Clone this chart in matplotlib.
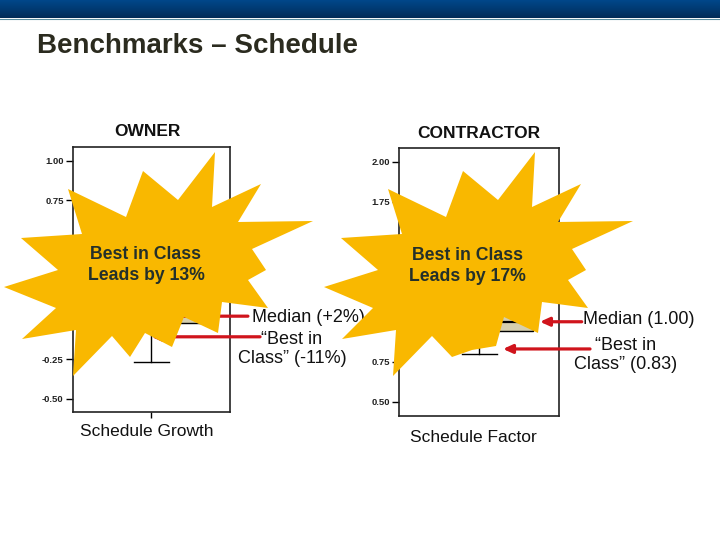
import numpy as np
import matplotlib.pyplot as plt
from matplotlib.patches import Polygon

plt.rcParams['font.family'] = ['Liberation Sans', 'DejaVu Sans']

# values
panel_titles = ["OWNER", "CONTRACTOR"]
metric_names = ["Schedule Growth", "Schedule Factor"]

owner_box = {"whislo": -0.27, "q1": -0.02, "med": 0.02, "q3": 0.10, "whishi": 0.45}
contractor_box = {"whislo": 0.80, "q1": 0.94, "med": 1.00, "q3": 1.08, "whishi": 1.30}

owner_yticks = [-0.50, -0.25, 0.00, 0.25, 0.50, 0.75, 1.00]
contractor_yticks = [0.50, 0.75, 1.00, 1.25, 1.50, 1.75, 2.00]

owner_median, owner_best = 0.02, -0.11
contractor_median, contractor_best = 1.00, 0.83
owner_lead, contractor_lead = 13, 17

W, H = 720, 540
GOLD = "#f9b800"
RED = "#d0141c"
DARK = "#24302a"


def rect(left, top, right, bottom):
    # pixel box -> figure fraction
    return [left / W, 1 - bottom / H, (right - left) / W, (bottom - top) / H]


fig = plt.figure(figsize=(W / 100, H / 100), dpi=100)


def box_panel(r, stats, ylim, yticks, xtick):
    ax = fig.add_axes(r)
    st = dict(stats)
    st["fliers"] = []
    ax.bxp([st], positions=[1], widths=0.67, capwidths=0.22, patch_artist=True,
           showfliers=False,
           boxprops=dict(facecolor="#d6cfae", edgecolor="black", linewidth=1),
           medianprops=dict(color="black", linewidth=1.6),
           whiskerprops=dict(color="black", linewidth=1),
           capprops=dict(color="black", linewidth=1))
    ax.set_xlim(0.5, 1.5)
    ax.set_ylim(*ylim)
    ax.set_yticks(yticks)
    ax.set_yticklabels([f"{v:.2f}" for v in yticks], fontsize=6.8,
                       fontweight="bold", color="#222222")
    ax.tick_params(axis="y", length=5, width=1, pad=1.5)
    if xtick:
        ax.set_xticks([1])
        ax.tick_params(axis="x", length=4, width=1, labelbottom=False)
    else:
        ax.set_xticks([])
    for s in ax.spines.values():
        s.set_linewidth(1.2)
        s.set_color("#222222")
    return ax


ax1 = box_panel(rect(72.7, 146.7, 230, 411.7), owner_box, (-0.582, 1.088),
                owner_yticks, True)
ax2 = box_panel(rect(399.3, 148.3, 559.3, 416), contractor_box, (0.411, 2.084),
                contractor_yticks, False)

arrow_kw = dict(arrowstyle="-|>,head_length=0.55,head_width=0.25",
                color=RED, lw=2.3, shrinkA=0, shrinkB=0)

# owner pointers (heads sit under the burst)
ax1.annotate("", xy=(1.0, owner_median), xytext=(1.614, owner_median),
             arrowprops=arrow_kw, annotation_clip=False)
ax1.annotate("", xy=(1.0, owner_best), xytext=(1.691, owner_best),
             arrowprops=arrow_kw, annotation_clip=False)
# contractor pointers
ax2.annotate("", xy=(1.379, contractor_median), xytext=(1.64, contractor_median),
             arrowprops=arrow_kw, annotation_clip=False)
ax2.annotate("", xy=(1.148, contractor_best), xytext=(1.692, contractor_best),
             arrowprops=arrow_kw, annotation_clip=False)

# overlay in slide pixels
ov = fig.add_axes([0, 0, 1, 1], zorder=5)
ov.set_xlim(0, W)
ov.set_ylim(H, 0)
ov.axis("off")
ov.patch.set_alpha(0)

# header band
grad = np.linspace(0, 1, 50).reshape(-1, 1)
band = plt.matplotlib.colors.LinearSegmentedColormap.from_list(
    "band", ["#00478a", "#003a72", "#002b58"])
ov.imshow(grad, cmap=band, extent=[0, W, 18, 0], aspect="auto", zorder=1)
ov.plot([0, W], [18.5, 18.5], color="#5a8ea0", lw=0.8, zorder=1)

ov.text(37, 46, "Benchmarks \u2013 Schedule", fontsize=20, fontweight="bold",
        color="#2b2b1f", ha="left", va="center")

ov.text(147.5, 131.5, panel_titles[0], fontsize=12.5, fontweight="bold",
        color="#111111", ha="center", va="center")
ov.text(479, 134, panel_titles[1], fontsize=12.5, fontweight="bold",
        color="#111111", ha="center", va="center")
ov.text(146.7, 431.5, metric_names[0], fontsize=12.5, color="#111111",
        ha="center", va="center")
ov.text(473, 438, metric_names[1], fontsize=12.5, color="#111111",
        ha="center", va="center")

# starburst outlines, slide pixels
owner_burst = np.array([
    (215, 152), (212, 207), (261, 184), (238, 222), (313, 221), (252, 249),
    (266, 270), (248, 280), (268, 308), (222, 302), (218, 333), (184, 317),
    (172, 347), (145, 333), (130, 357), (112, 336), (73, 376), (76, 330),
    (22, 339), (56, 308), (4, 287), (58, 270), (21, 238), (82, 234),
    (68, 189), (126, 217), (143, 171), (178, 200)], dtype=float)
contractor_burst = owner_burst + [320, 0]
# the lower notch sits a little differently on the right-hand burst
contractor_burst[12] = (496, 346)
contractor_burst[13] = (472, 350)
contractor_burst[14] = (452, 357)
contractor_burst[19] = (373, 308)

ov.add_patch(Polygon(owner_burst, closed=True, facecolor=GOLD, edgecolor="none",
                     zorder=2))
ov.add_patch(Polygon(contractor_burst, closed=True, facecolor=GOLD,
                     edgecolor="none", zorder=4))

ov.text(146, 265, f"Best in Class\nLeads by {owner_lead}%", fontsize=12.7,
        fontweight="bold", color=DARK, ha="center", va="center",
        linespacing=1.25, zorder=3)
ov.text(467, 266, f"Best in Class\nLeads by {contractor_lead}%", fontsize=12.7,
        fontweight="bold", color=DARK, ha="center", va="center",
        linespacing=1.25, zorder=5)

# owner callouts (partly under the contractor burst)
ov.text(252, 317, f"Median ({owner_median * 100:+.0f}%)", fontsize=13,
        color="#111111", ha="left", va="center", zorder=3)
ov.text(292, 349, f"\u201cBest in\nClass\u201d ({owner_best * 100:.0f}%)",
        fontsize=13, color="#111111", ha="center", va="center",
        linespacing=1.2, zorder=3)
# contractor callouts
ov.text(582.7, 320, f"Median ({contractor_median:.2f})", fontsize=13,
        color="#111111", ha="left", va="center", zorder=5)
ov.text(626, 355, f"\u201cBest in\nClass\u201d ({contractor_best:.2f})",
        fontsize=13, color="#111111", ha="center", va="center",
        linespacing=1.2, zorder=5)

fig.savefig("out.png", dpi=100)
